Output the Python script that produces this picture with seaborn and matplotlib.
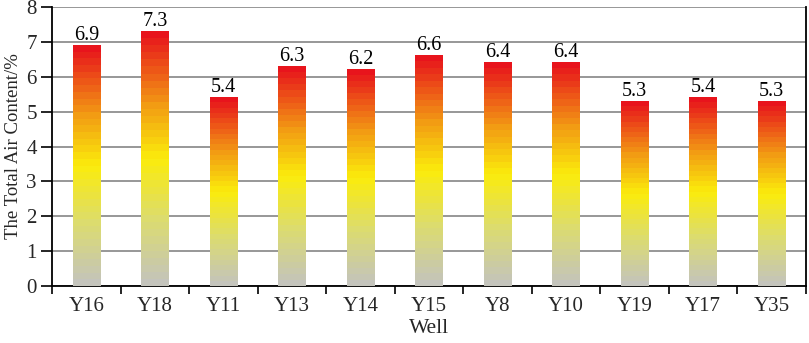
import numpy as np
import pandas as pd
import matplotlib
matplotlib.use("Agg")
import matplotlib.pyplot as plt
from matplotlib.colors import LinearSegmentedColormap
import seaborn as sns

wells = ["Y16", "Y18", "Y11", "Y13", "Y14", "Y15", "Y8", "Y10", "Y19", "Y17", "Y35"]
air_content = [6.9, 7.3, 5.4, 6.3, 6.2, 6.6, 6.4, 6.4, 5.3, 5.4, 5.3]
y_ticks = [0, 1, 2, 3, 4, 5, 6, 7, 8]

sns.set_theme(style="white")
plt.rcParams["font.family"] = ["Liberation Serif", "DejaVu Serif"]

df = pd.DataFrame({"Well": wells, "Air": air_content})

fig = plt.figure(figsize=(8.09, 3.43), dpi=100)
ax = fig.add_axes([52/809, 1 - 286/343, (806-52)/809, (286-7)/343])

sns.barplot(data=df, x="Well", y="Air", ax=ax, width=0.4, color="white",
            edgecolor="none", zorder=3)

cmap = LinearSegmentedColormap.from_list("g", [
    (0.0, "#c4c4bc"), (0.25, "#dcdc70"), (0.5, "#fbec0c"),
    (0.72, "#f29a14"), (1.0, "#e8141c")])
nb = 36
grad = np.linspace(0, 1, nb)[:, None]
for p in ax.patches:
    x0, y0 = p.get_x(), p.get_y()
    w, h = p.get_width(), p.get_height()
    ax.imshow(grad, cmap=cmap, origin="lower", aspect="auto",
              extent=[x0, x0 + w, y0, y0 + h], zorder=4, interpolation="nearest")
    ax.text(x0 + w/2, y0 + h + 0.01, f"{h:.1f}", ha="center", va="bottom",
            fontsize=14.5, color="black", zorder=5)

ax.set_xlim(-0.5, len(wells) - 0.5)
ax.set_ylim(0, 8)
ax.set_yticks(y_ticks)
ax.set_yticklabels([str(t) for t in y_ticks], fontsize=15)
ax.yaxis.grid(True, color="#8f8f8f", linewidth=1.3, zorder=0)
ax.set_axisbelow(True)

ax.set_xticks(range(len(wells)))
ax.set_xticklabels(wells, fontsize=15)
ax.tick_params(axis="x", which="major", length=0, pad=8)
ax.set_xticks(np.arange(-0.5, len(wells), 1.0), minor=True)
ax.tick_params(axis="x", which="minor", length=6, width=1.2, color="black",
               direction="out", bottom=True)
ax.tick_params(axis="y", length=8, width=1.2, color="black", direction="out",
               left=True, pad=3)

for s in ["left", "bottom", "right"]:
    ax.spines[s].set_visible(True)
    ax.spines[s].set_color("black")
    ax.spines[s].set_linewidth(1.3)
ax.spines["top"].set_visible(False)

ax.set_xlabel("Well", fontsize=15.5, labelpad=2)
ax.set_ylabel("The Total Air Content/%", fontsize=13.5, labelpad=3)

fig.savefig("out.png", dpi=100)
